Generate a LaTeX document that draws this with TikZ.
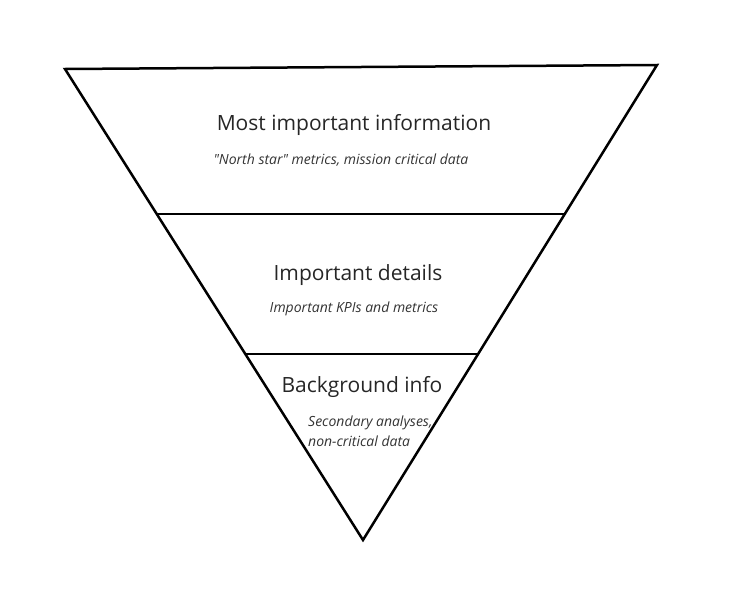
\documentclass[tikz,border=0pt]{standalone}
\usepackage{fontspec}
\setmainfont{Open Sans}
\begin{document}
\begin{tikzpicture}[x=1pt,y=-1pt,
        heading/.style={font=\fontsize{21}{25}\selectfont, text=black!85, inner sep=0pt, anchor=base},
        note/.style={font=\fontsize{14}{19.5}\selectfont\itshape, text=black!80, inner sep=0pt},
        edge/.style={line width=2.5pt, line join=miter}]
        \useasboundingbox (0,0) rectangle (732,600);

        % funnel outline
        \coordinate (topleft) at (65,69);
        \coordinate (topright) at (657,65);
        \coordinate (tip) at (363,540);
        \draw[edge] (topleft) -- (topright) -- (tip) -- cycle;

        % band dividers
        \draw[edge] (156,214) -- (565,214);
        \draw[edge] (245,354) -- (477,354);

        % top band
        \node[heading] (most) at (354,130) {Most important information};
        \node[note,anchor=base] (mostnote) at (341,164) {\textquotedbl North star\textquotedbl\ metrics, mission critical data};

        % middle band
        \node[heading] (details) at (358,280) {Important details};
        \node[note,anchor=base] (detailsnote) at (354,312) {Important KPIs and metrics};

        % bottom band
        \node[heading] (background) at (362,392) {Background info};
        \node[note,anchor=north west,align=left] (backgroundnote) at (308,416) {Secondary analyses,\\non-critical data};
    \end{tikzpicture}
\end{document}
